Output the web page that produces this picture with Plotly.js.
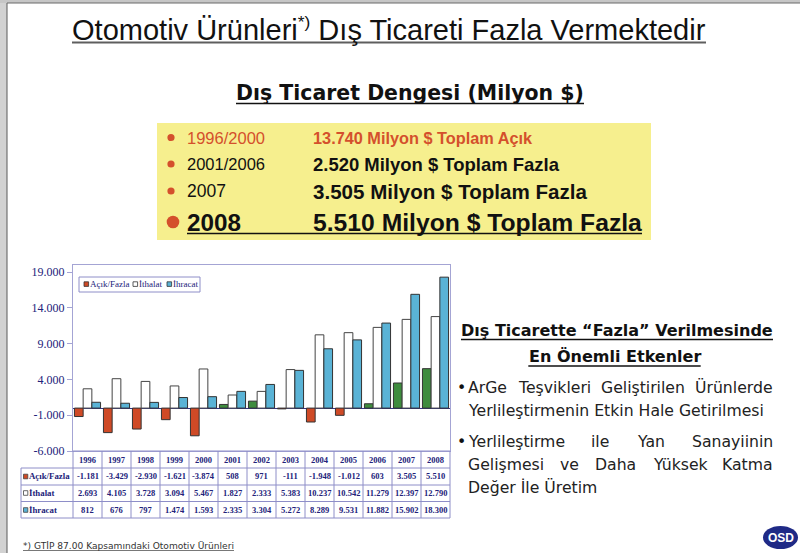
<!DOCTYPE html>
<html><head><meta charset="utf-8">
<script src="https://cdn.plot.ly/plotly-3.0.1.min.js"></script>
<style>html,body{margin:0;padding:0;background:#fff;overflow:hidden}#chart{width:800px;height:553px}</style>
</head><body><div id="chart"></div>
<script>
// ---------- DATA ----------
const years = ['1996','1997','1998','1999','2000','2001','2002','2003','2004','2005','2006','2007','2008'];
const balance = [-1181, -3429, -2930, -1621, -3874, 508, 971, -111, -1948, -1012, 603, 3505, 5510];
const imports = [2693, 4105, 3728, 3094, 5467, 1827, 2333, 5383, 10237, 10542, 11279, 12397, 12790];
const exportsV = [812, 676, 797, 1474, 1593, 2335, 3304, 5272, 8289, 9531, 11882, 15902, 18300];
const seriesNames = ['Açık/Fazla', 'İthalat', 'İhracat'];
const yTicks = [-6000, -1000, 4000, 9000, 14000, 19000];
const yTickLabels = ['-6.000', '-1.000', '4.000', '9.000', '14.000', '19.000'];

const mainTitle = ['Otomotiv Ürünleri', '*)', ' Dış Ticareti Fazla Vermektedir'];
const subTitle = 'Dış Ticaret Dengesi (Milyon $)';
const periods = ['1996/2000', '2001/2006', '2007', '2008'];
const summaries = ['13.740 Milyon $ Toplam Açık', '2.520 Milyon $ Toplam Fazla', '3.505 Milyon $ Toplam Fazla', '5.510 Milyon $ Toplam Fazla'];
const factorsTitle = ['Dış Ticarette “Fazla” Verilmesinde', 'En Önemli Etkenler'];
const factors = [
  ['ArGe Teşvikleri Geliştirilen Ürünlerde', 'Yerlileştirmenin Etkin Hale Getirilmesi'],
  ['Yerlileştirme ile Yan Sanayiinin', 'Gelişmesi ve Daha Yüksek Katma', 'Değer İle Üretim']
];
const footnote = '*) GTİP 87.00 Kapsamındaki Otomotiv Ürünleri';
const logoText = 'OSD';

// ---------- HELPERS ----------
const W = 800, H = 553;
const X = p => p / W, Y = p => 1 - p / H;
const cv = document.createElement('canvas').getContext('2d');
function tw(s, size, fam, bold) { cv.font = (bold ? 'bold ' : '') + size + 'px ' + fam; return cv.measureText(s).width; }
function fit(s, target, fam, bold, base) { return base * target / tw(s, base, fam, bold); }
function fmt(v) {
  const s = Math.abs(v).toString().replace(/\B(?=(\d{3})+(?!\d))/g, '.');
  return (v < 0 ? '-' : '') + s;
}

const SERIF = '"Liberation Serif", "Times New Roman", serif';
const ARIAL = '"Liberation Sans", Arial, sans-serif';
const TAHOMA = '"DejaVu Sans", Verdana, sans-serif';
const NARROW = '"Liberation Sans Narrow", "Arial Narrow", "Liberation Sans", sans-serif';

const RED = '#cf4a26', GREEN = '#3e8c3e', BLUE = '#5ab3d6', NAVY = '#22227a', LAV = '#a4a4d4', GRID = '#8e8ec8';
const BULLET = '#d4502c', REDTXT = '#d4502c';

const shapes = [], annotations = [];
function line(x0, y0, x1, y1, color, width) { shapes.push({type:'line', xref:'paper', yref:'paper', x0:X(x0), y0:Y(y0), x1:X(x1), y1:Y(y1), line:{color, width}}); }
function rect(x0, y0, x1, y1, fill, lc, lw) { shapes.push({type:'rect', xref:'paper', yref:'paper', x0:X(x0), y0:Y(y1), x1:X(x1), y1:Y(y0), fillcolor:fill, line:{color:lc || fill, width:lw || 0}}); }
function circ(cx, cy, r, fill) { shapes.push({type:'circle', xref:'paper', yref:'paper', x0:X(cx - r), y0:Y(cy + r), x1:X(cx + r), y1:Y(cy - r), fillcolor:fill, line:{width:0}}); }
function text(str, x, y, size, fam, color, opts) {
  annotations.push(Object.assign({text:str, xref:'paper', yref:'paper', x:X(x), y:Y(y), xanchor:'left', yanchor:'middle',
    showarrow:false, borderpad:0, borderwidth:0, font:{size, family:fam, color}}, opts || {}));
}
function justify(str, x0, x1, y, size, fam, color) {
  const words = str.split(' ');
  const ws = words.map(w => tw(w, size, fam, false));
  const tot = ws.reduce((a, b) => a + b, 0);
  const gap = (x1 - x0 - tot) / (words.length - 1);
  let x = x0;
  words.forEach((w, i) => { text(w, x, y, size, fam, color); x += ws[i] + gap; });
}

// ---------- SLIDE FRAME ----------
rect(0, 0, 7, H, '#d2d2d2');
rect(0, 0, W, 3, '#c6c6c6');
line(7, 3, 7, H, '#5a5a5a', 1);
line(7, 3, W, 3, '#6a6a6a', 1);

// ---------- TITLE ----------
{
  const base = 26;
  const w0 = tw(mainTitle[0], base, NARROW) + tw(mainTitle[1], base * 0.6, NARROW) + tw(mainTitle[2], base, NARROW);
  const s = base * 634 / w0;
  text(mainTitle[0] + '<sup><span style="font-size:' + (s * 0.6).toFixed(1) + 'px">' + mainTitle[1] + '</span></sup>' + mainTitle[2],
       389, 29, s, NARROW, '#111', {xanchor:'center'});
  line(72, 42.5, 706, 42.5, '#5e5e5e', 2);
}
// ---------- SUBTITLE ----------
{
  const s = fit(subTitle, 348, TAHOMA, true, 17);
  text('<b>' + subTitle + '</b>', 410, 93, s, TAHOMA, '#111', {xanchor:'center'});
  line(236, 103.5, 584, 103.5, '#111', 1.5);
}
// ---------- YELLOW SUMMARY BOX ----------
rect(157, 123, 651, 240, '#f6ef8e');
{
  const ys = [137.5, 164, 191, 222];
  const pw = [78, 78, 39, 54];
  const sw = [220, 246, 274, 329];
  const rads = [3.6, 3.6, 3.6, 6.3];
  const bx = [171, 171, 171, 173];
  for (let i = 0; i < 4; i++) {
    const col = i === 0 ? REDTXT : '#111';
    const pBold = i === 3;
    const ps = fit(periods[i], pw[i], ARIAL, pBold, 16);
    text(pBold ? '<b>' + periods[i] + '</b>' : periods[i], 187, ys[i], ps, ARIAL, col);
    const ss = fit(summaries[i], sw[i], ARIAL, true, 16);
    text('<b>' + summaries[i] + '</b>', 313, ys[i], ss, ARIAL, col);
    circ(bx[i], ys[i], rads[i], BULLET);
  }
  line(187, 233.5, 642, 233.5, '#111', 1.5);
}
// ---------- RIGHT TEXT ----------
{
  const s1 = fit(factorsTitle[0], 312, TAHOMA, true, 16);
  text('<b>' + factorsTitle[0] + '</b>', 617, 330, s1, TAHOMA, '#111', {xanchor:'center'});
  line(461, 339.5, 773, 339.5, '#111', 1.5);
  const w2 = tw(factorsTitle[1], s1, TAHOMA, true);
  text('<b>' + factorsTitle[1] + '</b>', 614.5, 356, s1, TAHOMA, '#111', {xanchor:'center'});
  line(614.5 - w2 / 2, 366, 614.5 + w2 / 2, 366, '#111', 1.5);

  const ps = fit(factors[0][1], 295, TAHOMA, false, 15);
  const lys = [[388, 410], [441, 464, 487]];
  factors.forEach((para, pi) => {
    text('•', 457, lys[pi][0], ps, TAHOMA, '#111');
    para.forEach((ln, li) => {
      if (li < para.length - 1) justify(ln, 468, 773, lys[pi][li], ps, TAHOMA, '#222');
      else text(ln, 468, lys[pi][li], ps, TAHOMA, '#222');
    });
  });
}
// ---------- FOOTNOTE & LOGO ----------
{
  const fs = fit(footnote, 211, TAHOMA, false, 9);
  text(footnote, 23, 545.5, fs, TAHOMA, '#333');
  line(23, 550.5, 234, 550.5, '#555', 0.8);
  shapes.push({type:'circle', xref:'paper', yref:'paper', x0:X(763), y0:Y(549), x1:X(798), y1:Y(526), fillcolor:'#1f2a86', line:{width:0}});
  text('<b>' + logoText + '</b>', 780.5, 537.5, 12, ARIAL, '#ffffff', {xanchor:'center'});
}

// ---------- CHART GEOMETRY ----------
const PL = 73, PR = 450, PT = 265, PB = 451;
// legend (manual, compact like the original)
rect(79, 277, 200, 292, '#ffffff', GRID, 1);
{
  const lx = [84, 133, 167];
  const cols = [RED, '#ffffff', BLUE];
  seriesNames.forEach((n, i) => {
    rect(lx[i], 281.8, lx[i] + 4.6, 286.4, cols[i], '#333', 0.8);
    text(n, lx[i] + 6, 284, 9, SERIF, NAVY);
  });
}
// table grid
const colX = k => PL + (PR - PL) * k / years.length;
const rowLines = [468, 485, 501.5, 518];
line(PL, PB, PR, PB, GRID, 1);
rowLines.forEach(y => line(21, y, PR, y, GRID, 1));
line(21, 468, 21, 518, GRID, 1);
for (let k = 0; k <= years.length; k++) line(colX(k), PB, colX(k), 518, GRID, 1);
// table text
const rowY = [476.5, 493, 510];
const rowVals = [balance, imports, exportsV];
const rowSq = [RED, '#ffffff', BLUE];
years.forEach((yr, i) => {
  const cx = colX(i + 0.5);
  text('<b>' + yr + '</b>', cx, 459.5, 8.5, SERIF, NAVY, {xanchor:'center'});
  rowVals.forEach((arr, r) => {
    text('<b>' + fmt(arr[i]) + '</b>', cx, rowY[r], 8.5, SERIF, NAVY, {xanchor:'center'});
  });
});
seriesNames.forEach((n, r) => {
  rect(23.5, rowY[r] - 2.3, 27.8, rowY[r] + 2.3, rowSq[r], '#444', 0.8);
  text('<b>' + n + '</b>', 29, rowY[r], 8.8, SERIF, NAVY);
});

// ---------- TRACES ----------
const traces = [
  {type:'bar', name:seriesNames[0], x:years, y:balance,
   marker:{color:balance.map(v => v < 0 ? RED : GREEN), line:{color:'#333', width:1}}},
  {type:'bar', name:seriesNames[1], x:years, y:imports,
   marker:{color:'#ffffff', line:{color:'#444', width:1}}},
  {type:'bar', name:seriesNames[2], x:years, y:exportsV,
   marker:{color:BLUE, line:{color:'#333', width:1}}}
];

const layout = {
  width:W, height:H, margin:{l:0, r:0, t:0, b:0},
  paper_bgcolor:'#ffffff', plot_bgcolor:'#ffffff', showlegend:false,
  barmode:'group', bargap:0.1, bargroupgap:0,
  xaxis:{domain:[X(PL), X(PR)], type:'category', range:[-0.5, years.length - 0.5], showticklabels:false, ticks:'',
    showline:true, mirror:true, linecolor:LAV, linewidth:1, showgrid:false, zeroline:false},
  yaxis:{domain:[Y(PB), Y(PT)], range:[-6000, 20000], tickvals:yTicks, ticktext:yTickLabels, ticks:'outside', ticklen:5,
    tickcolor:LAV, showline:true, mirror:true, linecolor:LAV, linewidth:1, showgrid:false,
    zeroline:true, zerolinecolor:'#34348a', zerolinewidth:1,
    tickfont:{family:SERIF, size:12, color:NAVY}},
  shapes, annotations
};
Plotly.newPlot('chart', traces, layout, {displayModeBar:false, staticPlot:true});
</script>
</body></html>
